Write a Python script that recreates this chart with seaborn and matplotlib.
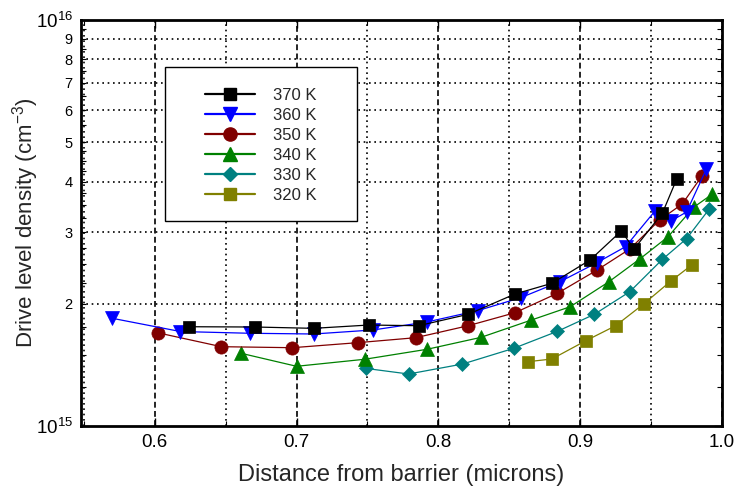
import matplotlib
matplotlib.use("Agg")
import matplotlib.pyplot as plt
import matplotlib.colors as mcolors
from matplotlib.lines import Line2D
from matplotlib.patches import Rectangle
from matplotlib.ticker import FixedLocator, FixedFormatter, MultipleLocator
import numpy as np
import pandas as pd
import seaborn as sns

# Drive level density profiles vs. distance from barrier, per temperature
labels = ["370 K", "360 K", "350 K", "340 K", "330 K", "320 K"]

x_370 = [0.624, 0.671, 0.712, 0.751, 0.786, 0.821, 0.854, 0.880, 0.907, 0.929, 0.938, 0.958, 0.968]
n_370 = [1.756e15, 1.753e15, 1.740e15, 1.773e15, 1.766e15, 1.884e15, 2.114e15, 2.246e15,
         2.564e15, 3.022e15, 2.729e15, 3.346e15, 4.053e15]

x_360 = [0.570, 0.618, 0.667, 0.712, 0.754, 0.792, 0.828, 0.858, 0.886, 0.912, 0.932,
         0.953, 0.964, 0.975, 0.989]
n_360 = [1.842e15, 1.709e15, 1.692e15, 1.685e15, 1.724e15, 1.804e15, 1.925e15, 2.070e15,
         2.269e15, 2.527e15, 2.765e15, 3.394e15, 3.198e15, 3.366e15, 4.295e15]

x_350 = [0.602, 0.647, 0.697, 0.743, 0.784, 0.821, 0.854, 0.884, 0.912, 0.935, 0.956, 0.972, 0.986]
n_350 = [1.697e15, 1.568e15, 1.559e15, 1.604e15, 1.650e15, 1.766e15, 1.901e15, 2.123e15,
         2.423e15, 2.729e15, 3.216e15, 3.523e15, 4.136e15]

x_340 = [0.661, 0.700, 0.748, 0.792, 0.830, 0.865, 0.893, 0.920, 0.942, 0.962, 0.980, 0.993]
n_340 = [1.510e15, 1.403e15, 1.460e15, 1.545e15, 1.653e15, 1.821e15, 1.967e15, 2.263e15,
         2.578e15, 2.926e15, 3.457e15, 3.722e15]

x_330 = [0.749, 0.779, 0.817, 0.853, 0.884, 0.910, 0.935, 0.958, 0.975, 0.991]
n_330 = [1.386e15, 1.343e15, 1.421e15, 1.553e15, 1.711e15, 1.884e15, 2.142e15, 2.574e15,
         2.893e15, 3.423e15]

x_320 = [0.863, 0.880, 0.904, 0.925, 0.945, 0.964, 0.979]
n_320 = [1.440e15, 1.462e15, 1.622e15, 1.766e15, 2.001e15, 2.276e15, 2.497e15]

series_x = [x_370, x_360, x_350, x_340, x_330, x_320]
series_n = [n_370, n_360, n_350, n_340, n_330, n_320]

colors = ["#000000", "#0000ff", "#800000", "#008000", "#008080", "#808000"]
marker_shapes = ["s", "v", "o", "^", "D", "s"]
marker_sizes = [9, 10, 9.5, 10, 7, 9]

y_major = [1e15, 1e16]
y_major_labels = [r"$10^{15}$", r"$10^{16}$"]
y_minor_labels = ["2", "3", "4", "5", "6", "7", "8", "9"]

df = pd.concat(
    [pd.DataFrame({"distance": xs, "density": ns, "T": lab})
     for xs, ns, lab in zip(series_x, series_n, labels)],
    ignore_index=True,
)

sns.set_theme(style="ticks")
plt.rcParams["font.family"] = ["Liberation Sans", "DejaVu Sans"]
plt.rcParams["mathtext.default"] = "regular"

fig = plt.figure(figsize=(7.36, 4.87), dpi=100)
ax = fig.add_axes([81 / 736, 1 - 426 / 487, (722 - 81) / 736, (426 - 20) / 487])
ax.set_yscale("log")

palette = dict(zip(labels, colors))
markers = dict(zip(labels, marker_shapes))
sns.lineplot(
    data=df, x="distance", y="density", hue="T", style="T",
    hue_order=labels, style_order=labels, palette=palette, markers=markers,
    dashes=False, estimator=None, sort=False, lw=0.9, legend=False, ax=ax,
)

# per-series marker sizes, solid-coloured marker edges
hex_to_idx = {mcolors.to_hex(c): i for i, c in enumerate(colors)}
for line in ax.lines:
    i = hex_to_idx.get(mcolors.to_hex(line.get_color()))
    if i is None:
        continue
    line.set_markersize(marker_sizes[i])
    line.set_markeredgecolor(colors[i])
    line.set_markerfacecolor(colors[i])
    line.set_markeredgewidth(0.5)
    line.set_zorder(3 + (6 - i) * 0.01)

# axes limits and ticks
ax.set_xlim(0.548, 1.0)
ax.set_ylim(1e15, 1e16)
ax.xaxis.set_major_locator(MultipleLocator(0.1))
ax.xaxis.set_minor_locator(FixedLocator([0.55, 0.65, 0.75, 0.85, 0.95]))
ax.xaxis.set_major_formatter(plt.FuncFormatter(lambda v, p: f"{v:.1f}"))

minor_steps = list(np.arange(1.25, 5.0, 0.25)) + list(np.arange(5.0, 10.0, 0.5))
minor_pos = [m * 1e15 for m in minor_steps]
ax.yaxis.set_major_locator(FixedLocator(y_major))
ax.yaxis.set_major_formatter(FixedFormatter(y_major_labels))
ax.yaxis.set_minor_locator(FixedLocator(minor_pos))
minor_text = []
for m in minor_steps:
    s = f"{m:g}"
    minor_text.append(s if s in y_minor_labels else "")
ax.yaxis.set_minor_formatter(FixedFormatter(minor_text))

ax.tick_params(which="both", direction="in", top=True, right=True, colors="black")
ax.tick_params(which="major", length=6, width=1, labelsize=13.5, pad=6)
ax.tick_params(which="minor", length=3.5, width=0.8)
ax.tick_params(axis="y", which="minor", labelsize=10.5, pad=6)
ax.tick_params(axis="x", which="minor", labelbottom=False)

# grid: dashed major x, dotted minor x, dotted decade subdivisions in y
ax.set_axisbelow(True)
ax.grid(False)
ax.grid(which="major", axis="x", color="black", lw=1.2, ls=(0, (3.5, 2)))
ax.grid(which="minor", axis="x", color="black", lw=1.2, ls=(0, (1, 2.2)))
for k in range(2, 10):
    ax.axhline(k * 1e15, color="black", lw=1.2, ls=(0, (1, 2.2)), zorder=1)

for sp in ax.spines.values():
    sp.set_linewidth(2)
    sp.set_color("black")

ax.set_xlabel("Distance from barrier (microns)", fontsize=17, labelpad=9)
ax.set_ylabel("Drive level density (cm$^{-3}$)", fontsize=16)
ax.yaxis.set_label_coords(-0.062, 0.5)

# boxed legend
box = Rectangle((165 / 736, 1 - 221 / 487), 192 / 736, 154 / 487,
                transform=fig.transFigure, facecolor="white", edgecolor="black",
                lw=1.0, zorder=4, clip_on=False)
ax.add_patch(box)
handles = [Line2D([], [], color=c, marker=m, ms=s, mec=c, mfc=c, lw=1.6)
           for c, m, s in zip(colors, marker_shapes, marker_sizes)]
leg = ax.legend(handles, labels, loc="center", bbox_to_anchor=(261 / 736, 1 - 145 / 487),
                bbox_transform=fig.transFigure, frameon=False, fontsize=12,
                handlelength=3.0, handletextpad=1.1, labelspacing=0.3)
leg.set_zorder(5)

fig.savefig("out.png", dpi=100)
